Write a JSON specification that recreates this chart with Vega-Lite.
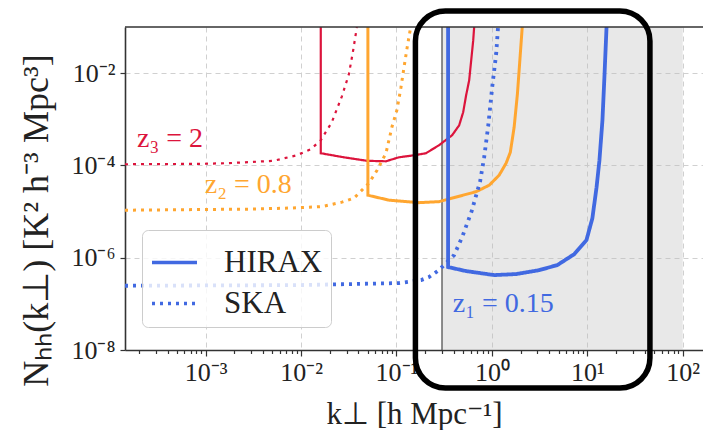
{
 "$schema": "https://vega.github.io/schema/vega-lite/v6.json",
 "width": 578, "height": 323,
 "autosize": {"type": "none"},
 "padding": {"left": 125, "top": 27, "right": 0, "bottom": 80},
 "background": "white",
 "config": {"view": {"stroke": null}, "font": "Liberation Serif"},
 "datasets": {
  "shade": [{"k0": 0.3, "k1": 100}],
  "frame": [{"k0": 0.158, "k1": 45.3, "N0": 1.5e-9, "N1": 0.222}],
  "labels": [
   {"z": "z3", "label": "z₃ = 2", "k": 1.91e-4, "N": 2.51e-4},
   {"z": "z2", "label": "z₂ = 0.8", "k": 9.81e-4, "N": 2.53e-5},
   {"z": "z1", "label": "z₁ = 0.15", "k": 0.39, "N": 6.76e-8}
  ],
  "curves": [
   {"z":"z3","instrument":"HIRAX","k":0.0161,"N":0.1},
   {"z":"z3","instrument":"HIRAX","k":0.0161,"N":1.84e-4},
   {"z":"z3","instrument":"HIRAX","k":0.0281,"N":1.5e-4},
   {"z":"z3","instrument":"HIRAX","k":0.049,"N":1.26e-4},
   {"z":"z3","instrument":"HIRAX","k":0.0776,"N":1.23e-4},
   {"z":"z3","instrument":"HIRAX","k":0.106,"N":1.5e-4},
   {"z":"z3","instrument":"HIRAX","k":0.153,"N":1.66e-4},
   {"z":"z3","instrument":"HIRAX","k":0.204,"N":1.84e-4},
   {"z":"z3","instrument":"HIRAX","k":0.279,"N":2.74e-4},
   {"z":"z3","instrument":"HIRAX","k":0.383,"N":4.51e-4},
   {"z":"z3","instrument":"HIRAX","k":0.454,"N":7.41e-4},
   {"z":"z3","instrument":"HIRAX","k":0.5,"N":1.42e-3},
   {"z":"z3","instrument":"HIRAX","k":0.537,"N":3.31e-3},
   {"z":"z3","instrument":"HIRAX","k":0.578,"N":6.98e-3},
   {"z":"z3","instrument":"HIRAX","k":0.607,"N":0.0189},
   {"z":"z3","instrument":"HIRAX","k":0.637,"N":0.0513},
   {"z":"z3","instrument":"HIRAX","k":0.652,"N":0.1},
   {"z":"z3","instrument":"SKA","k":1.43e-4,"N":1.06e-4},
   {"z":"z3","instrument":"SKA","k":8.4e-4,"N":1.08e-4},
   {"z":"z3","instrument":"SKA","k":1.74e-3,"N":1.12e-4},
   {"z":"z3","instrument":"SKA","k":5.17e-3,"N":1.26e-4},
   {"z":"z3","instrument":"SKA","k":9.02e-3,"N":1.66e-4},
   {"z":"z3","instrument":"SKA","k":0.01265,"N":2.25e-4},
   {"z":"z3","instrument":"SKA","k":0.0161,"N":3.51e-4},
   {"z":"z3","instrument":"SKA","k":0.021,"N":8.61e-4},
   {"z":"z3","instrument":"SKA","k":0.0268,"N":3.15e-3},
   {"z":"z3","instrument":"SKA","k":0.0317,"N":9.42e-3},
   {"z":"z3","instrument":"SKA","k":0.0349,"N":0.0282},
   {"z":"z3","instrument":"SKA","k":0.0385,"N":0.1},
   {"z":"z2","instrument":"HIRAX","k":0.0502,"N":0.1},
   {"z":"z2","instrument":"HIRAX","k":0.0502,"N":2.26e-5},
   {"z":"z2","instrument":"HIRAX","k":0.0834,"N":1.77e-5},
   {"z":"z2","instrument":"HIRAX","k":0.172,"N":1.56e-5},
   {"z":"z2","instrument":"HIRAX","k":0.279,"N":1.64e-5},
   {"z":"z2","instrument":"HIRAX","k":0.454,"N":2.15e-5},
   {"z":"z2","instrument":"HIRAX","k":0.684,"N":2.7e-5},
   {"z":"z2","instrument":"HIRAX","k":0.937,"N":3.72e-5},
   {"z":"z2","instrument":"HIRAX","k":1.19,"N":6.13e-5},
   {"z":"z2","instrument":"HIRAX","k":1.41,"N":1.12e-4},
   {"z":"z2","instrument":"HIRAX","k":1.56,"N":1.93e-4},
   {"z":"z2","instrument":"HIRAX","k":1.71,"N":6.71e-4},
   {"z":"z2","instrument":"HIRAX","k":1.85,"N":3.47e-3},
   {"z":"z2","instrument":"HIRAX","k":1.98,"N":0.0243},
   {"z":"z2","instrument":"HIRAX","k":2.08,"N":0.1},
   {"z":"z2","instrument":"SKA","k":1.43e-4,"N":1.07e-5},
   {"z":"z2","instrument":"SKA","k":2.82e-3,"N":1.13e-5},
   {"z":"z2","instrument":"SKA","k":7.43e-3,"N":1.19e-5},
   {"z":"z2","instrument":"SKA","k":0.0165,"N":1.28e-5},
   {"z":"z2","instrument":"SKA","k":0.0268,"N":1.6e-5},
   {"z":"z2","instrument":"SKA","k":0.0358,"N":1.95e-5},
   {"z":"z2","instrument":"SKA","k":0.0514,"N":4.12e-5},
   {"z":"z2","instrument":"SKA","k":0.0626,"N":7.87e-5},
   {"z":"z2","instrument":"SKA","k":0.0776,"N":1.84e-4},
   {"z":"z2","instrument":"SKA","k":0.0898,"N":6.89e-4},
   {"z":"z2","instrument":"SKA","k":0.101,"N":1.57e-3},
   {"z":"z2","instrument":"SKA","k":0.1115,"N":4.93e-3},
   {"z":"z2","instrument":"SKA","k":0.12,"N":0.0134},
   {"z":"z2","instrument":"SKA","k":0.129,"N":0.0344},
   {"z":"z2","instrument":"SKA","k":0.139,"N":0.0843},
   {"z":"z2","instrument":"SKA","k":0.142,"N":0.1},
   {"z":"z1","instrument":"HIRAX","k":0.3475,"N":0.1},
   {"z":"z1","instrument":"HIRAX","k":0.3475,"N":6.27e-7},
   {"z":"z1","instrument":"HIRAX","k":0.537,"N":5.13e-7},
   {"z":"z1","instrument":"HIRAX","k":1.057,"N":4.2e-7},
   {"z":"z1","instrument":"HIRAX","k":1.8,"N":4.42e-7},
   {"z":"z1","instrument":"HIRAX","k":3.14,"N":5.39e-7},
   {"z":"z1","instrument":"HIRAX","k":4.85,"N":6.92e-7},
   {"z":"z1","instrument":"HIRAX","k":7.32,"N":1.2e-6},
   {"z":"z1","instrument":"HIRAX","k":9.79,"N":2.4e-6},
   {"z":"z1","instrument":"HIRAX","k":11.3,"N":7.19e-6},
   {"z":"z1","instrument":"HIRAX","k":12.5,"N":3.38e-5},
   {"z":"z1","instrument":"HIRAX","k":13.4,"N":1.3e-4},
   {"z":"z1","instrument":"HIRAX","k":14.4,"N":9.51e-4},
   {"z":"z1","instrument":"HIRAX","k":15.1,"N":8.11e-3},
   {"z":"z1","instrument":"HIRAX","k":15.9,"N":0.1},
   {"z":"z1","instrument":"SKA","k":1.43e-4,"N":2.47e-7},
   {"z":"z1","instrument":"SKA","k":9.46e-3,"N":2.55e-7},
   {"z":"z1","instrument":"SKA","k":0.0317,"N":2.68e-7},
   {"z":"z1","instrument":"SKA","k":0.106,"N":2.82e-7},
   {"z":"z1","instrument":"SKA","k":0.181,"N":3.27e-7},
   {"z":"z1","instrument":"SKA","k":0.219,"N":3.8e-7},
   {"z":"z1","instrument":"SKA","k":0.279,"N":5.39e-7},
   {"z":"z1","instrument":"SKA","k":0.402,"N":1.14e-6},
   {"z":"z1","instrument":"SKA","k":0.488,"N":2.79e-6},
   {"z":"z1","instrument":"SKA","k":0.614,"N":1.02e-5},
   {"z":"z1","instrument":"SKA","k":0.753,"N":4.55e-5},
   {"z":"z1","instrument":"SKA","k":0.83,"N":1.5e-4},
   {"z":"z1","instrument":"SKA","k":0.914,"N":7.05e-4},
   {"z":"z1","instrument":"SKA","k":1.007,"N":4.93e-3},
   {"z":"z1","instrument":"SKA","k":1.11,"N":0.0269},
   {"z":"z1","instrument":"SKA","k":1.16,"N":0.1}
  ]
 },
 "layer": [
  {
   "data": {"name": "shade"},
   "mark": {"type": "rect", "fill": "#bdbdbd", "opacity": 0.35},
   "encoding": {
    "x": {"field": "k0", "type": "quantitative", "scale": {"type": "log", "domain": [1.43e-4, 163], "nice": false}},
    "x2": {"field": "k1"}
   }
  },
  {
   "data": {"name": "shade"},
   "mark": {"type": "rule", "color": "#444", "strokeWidth": 1.2},
   "encoding": {
    "x": {"field": "k0", "type": "quantitative", "scale": {"type": "log", "domain": [1.43e-4, 163], "nice": false}}
   }
  },
  {
   "data": {"name": "curves"},
   "transform": [{"filter": "datum.z == 'z3'"}],
   "mark": {"type": "line", "strokeWidth": 2.2, "clip": true},
   "encoding": {
    "x": {"field": "k", "type": "quantitative", "scale": {"type": "log", "domain": [1.43e-4, 163], "nice": false},
     "axis": {
      "values": [0.0002,0.0003,0.0004,0.0005,0.0006,0.0007,0.0008,0.0009,0.001,0.002,0.003,0.004,0.005,0.006,0.007,0.008,0.009,0.01,0.02,0.03,0.04,0.05,0.06,0.07,0.08,0.09,0.1,0.2,0.3,0.4,0.5,0.6,0.7,0.8,0.9,1,2,3,4,5,6,7,8,9,10,20,30,40,50,60,70,80,90,100],
      "labelExpr": "datum.value==0.001?'10⁻³':datum.value==0.01?'10⁻²':datum.value==0.1?'10⁻¹':datum.value==1?'10⁰':datum.value==10?'10¹':datum.value==100?'10²':''",
      "tickSize": {"condition": {"test": "datum.value==0.001||datum.value==0.01||datum.value==0.1||datum.value==1||datum.value==10||datum.value==100", "value": 6}, "value": 3.5},
      "gridOpacity": {"condition": {"test": "datum.value==0.001||datum.value==0.01||datum.value==0.1||datum.value==1||datum.value==10||datum.value==100", "value": 1}, "value": 0},
      "labelFlush": false, "labelOverlap": false, "labelPadding": 3,
      "labelFont": "Liberation Serif", "labelFontSize": 26, "labelColor": "#222",
      "domainColor": "#333", "domainWidth": 1.6, "tickColor": "#333", "tickWidth": 1.2,
      "grid": true, "gridColor": "#d0d0d0", "gridDash": [5, 4], "gridWidth": 1,
      "title": "k⊥ [h Mpc⁻¹]", "titleFont": "Liberation Serif", "titleFontSize": 31, "titleFontWeight": "normal", "titleColor": "#222",
      "titleX": 289, "titleY": 73, "titleAlign": "center", "titleBaseline": "alphabetic"
     }},
    "y": {"field": "N", "type": "quantitative", "scale": {"type": "log", "domain": [1e-8, 0.1], "nice": false},
     "axis": {
      "values": [1e-8, 1e-6, 1e-4, 0.01],
      "labelExpr": "datum.value==1e-8?'10⁻⁸':datum.value==1e-6?'10⁻⁶':datum.value==1e-4?'10⁻⁴':'10⁻²'",
      "tickSize": 5, "labelPadding": 5, "labelFlush": false, "labelOverlap": false,
      "labelFont": "Liberation Serif", "labelFontSize": 26, "labelColor": "#222",
      "domainColor": "#333", "domainWidth": 1.6, "tickColor": "#333", "tickWidth": 1.2,
      "grid": true, "gridColor": "#d0d0d0", "gridDash": [5, 4], "gridWidth": 1,
      "title": "Nₕₕ(k⊥) [K² h⁻³ Mpc³]", "titleFont": "Liberation Serif", "titleFontSize": 36, "titleFontWeight": "normal", "titleColor": "#222",
      "titleX": -89, "titleY": 193, "titleAngle": 270, "titleAlign": "center", "titleBaseline": "middle"
     }},
    "color": {"field": "z", "type": "nominal", "scale": {"domain": ["z1", "z2", "z3"], "range": ["#4169e1", "#ffa630", "#dc143c"]}, "legend": null},
    "strokeDash": {"field": "instrument", "type": "nominal", "scale": {"domain": ["HIRAX", "SKA"], "range": [[1, 0], [3, 5]]},
     "legend": {"orient": "none", "legendX": 17, "legendY": 203, "title": null, "symbolType": "stroke", "symbolSize": 2025, "symbolStrokeWidth": 3.5, "symbolStrokeColor": "#4169e1", "labelFont": "Liberation Serif", "labelFontSize": 31, "labelColor": "#222", "labelOffset": 25, "padding": 8, "rowPadding": 1, "fillColor": "rgba(255,255,255,0.8)", "strokeColor": "#cccccc", "cornerRadius": 6}},
    "order": {"value": null}
   }
  },
  {
   "data": {"name": "curves"},
   "transform": [{"filter": "datum.z == 'z2'"}],
   "mark": {"type": "line", "strokeWidth": 3, "clip": true},
   "encoding": {
    "x": {"field": "k", "type": "quantitative", "scale": {"type": "log", "domain": [1.43e-4, 163], "nice": false}},
    "y": {"field": "N", "type": "quantitative", "scale": {"type": "log", "domain": [1e-8, 0.1], "nice": false}},
    "color": {"field": "z", "type": "nominal", "scale": {"domain": ["z1", "z2", "z3"], "range": ["#4169e1", "#ffa630", "#dc143c"]}, "legend": null},
    "strokeDash": {"field": "instrument", "type": "nominal", "scale": {"domain": ["HIRAX", "SKA"], "range": [[1, 0], [3, 5]]}},
    "order": {"value": null}
   }
  },
  {
   "data": {"name": "curves"},
   "transform": [{"filter": "datum.z == 'z1'"}],
   "mark": {"type": "line", "strokeWidth": 3.8, "clip": true},
   "encoding": {
    "x": {"field": "k", "type": "quantitative", "scale": {"type": "log", "domain": [1.43e-4, 163], "nice": false}},
    "y": {"field": "N", "type": "quantitative", "scale": {"type": "log", "domain": [1e-8, 0.1], "nice": false}},
    "color": {"field": "z", "type": "nominal", "scale": {"domain": ["z1", "z2", "z3"], "range": ["#4169e1", "#ffa630", "#dc143c"]}, "legend": null},
    "strokeDash": {"field": "instrument", "type": "nominal", "scale": {"domain": ["HIRAX", "SKA"], "range": [[1, 0], [3, 5]]}},
    "order": {"value": null}
   }
  },
  {
   "data": {"name": "labels"},
   "mark": {"type": "text", "align": "left", "baseline": "alphabetic", "fontSize": 28, "font": "Liberation Serif"},
   "encoding": {
    "x": {"field": "k", "type": "quantitative", "scale": {"type": "log", "domain": [1.43e-4, 163], "nice": false}},
    "y": {"field": "N", "type": "quantitative", "scale": {"type": "log", "domain": [1e-8, 0.1], "nice": false}},
    "text": {"field": "label"},
    "color": {"field": "z", "type": "nominal", "scale": {"domain": ["z1", "z2", "z3"], "range": ["#4169e1", "#ffa630", "#dc143c"]}, "legend": null}
   }
  },
  {
   "data": {"values": [{}]},
   "mark": {"type": "rule", "color": "#333", "strokeWidth": 1.6},
   "encoding": {
    "y": {"datum": 0.1, "type": "quantitative", "scale": {"type": "log", "domain": [1e-8, 0.1], "nice": false}}
   }
  },
  {
   "data": {"name": "frame"},
   "mark": {"type": "rect", "filled": false, "color": "black", "strokeWidth": 5.5, "cornerRadius": 30},
   "encoding": {
    "x": {"field": "k0", "type": "quantitative", "scale": {"type": "log", "domain": [1.43e-4, 163], "nice": false}},
    "x2": {"field": "k1"},
    "y": {"field": "N0", "type": "quantitative", "scale": {"type": "log", "domain": [1e-8, 0.1], "nice": false}},
    "y2": {"field": "N1"}
   }
  }
 ]
}
